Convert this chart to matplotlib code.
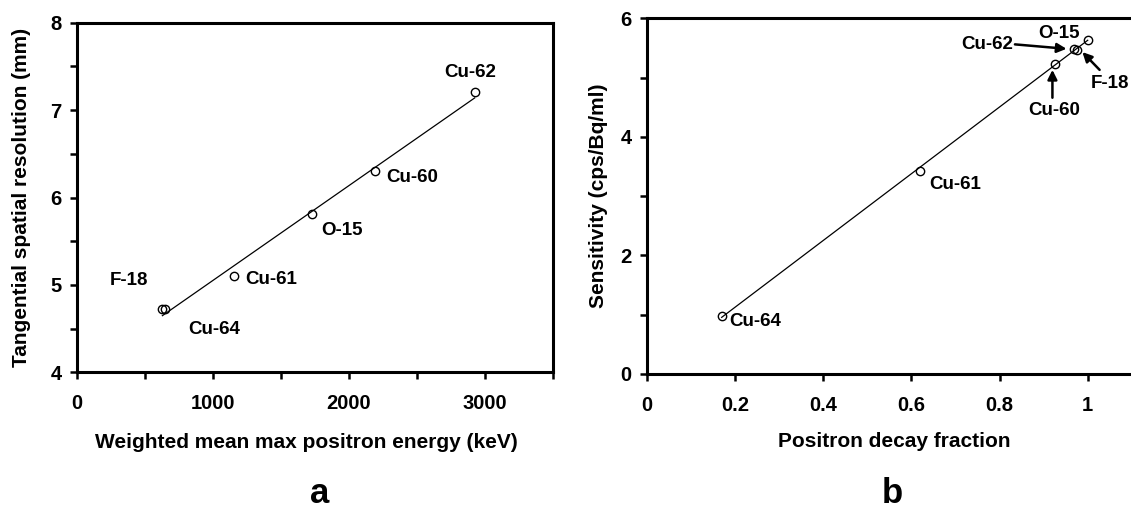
import numpy as np
import matplotlib
matplotlib.use('Agg')
from matplotlib import pyplot as plt

plt.rcParams['font.family'] = ['Liberation Sans', 'DejaVu Sans']
plt.rcParams['font.weight'] = 'bold'
plt.rcParams['axes.labelweight'] = 'bold'

# panel a: resolution vs energy
isotopes_a = ['F-18', 'Cu-64', 'Cu-61', 'O-15', 'Cu-60', 'Cu-62']
energy_kev = [630, 650, 1155, 1730, 2190, 2925]
resolution_mm = [4.72, 4.72, 5.10, 5.81, 6.30, 7.21]

# panel b: sensitivity vs positron fraction
isotopes_b = ['Cu-64', 'Cu-61', 'Cu-60', 'Cu-62', 'F-18', 'O-15']
positron_frac = [0.17, 0.62, 0.925, 0.975, 0.97, 1.0]
sensitivity = [0.98, 3.43, 5.23, 5.47, 5.49, 5.63]

xticks_a = [0, 500, 1000, 1500, 2000, 2500, 3000, 3500]
xlabels_a = ['0', '', '1000', '', '2000', '', '3000', '']
yticks_a = [4, 4.5, 5, 5.5, 6, 6.5, 7, 7.5, 8]
ylabels_a = ['4', '', '5', '', '6', '', '7', '', '8']
xticks_b = [0, 0.2, 0.4, 0.6, 0.8, 1]
xlabels_b = ['0', '0.2', '0.4', '0.6', '0.8', '1']
yticks_b = [0, 1, 2, 3, 4, 5, 6]
ylabels_b = ['0', '', '2', '', '4', '', '6']

fig = plt.figure(figsize=(11.31, 5.08), dpi=100)
ax1 = fig.add_axes([0.0678, 0.2671, 0.4211, 0.6882])
# panel b runs past the right edge of the picture, as in the source
ax2 = fig.add_axes([0.5718, 0.2638, 0.4679, 0.7002])


def style(ax):
    for s in ax.spines.values():
        s.set_linewidth(2.2)
    ax.tick_params(direction='out', length=5, width=1.8, labelsize=14.5)
    ax.tick_params(axis='x', pad=10.5)
    ax.tick_params(axis='y', pad=6)


# ---- a ----
ex = np.array(energy_kev)
ry = np.array(resolution_mm)
k, b = np.polyfit(ex, ry, 1)
xx = np.array([ex.min(), ex.max()])
ax1.plot(xx, k * xx + b, color='black', lw=0.9)
ax1.plot(ex, ry, 'o', ms=6, mfc='none', mec='black', mew=1.0)
ax1.set_xlim(0, 3500)
ax1.set_ylim(4, 8)
ax1.set_xticks(xticks_a)
ax1.set_xticklabels(xlabels_a)
ax1.set_yticks(yticks_a)
ax1.set_yticklabels(ylabels_a)
style(ax1)

label_pos_a = {'F-18': (383, 5.055), 'Cu-64': (1014, 4.495), 'Cu-61': (1429, 5.063),
               'O-15': (1947, 5.627), 'Cu-60': (2464, 6.229), 'Cu-62': (2892, 7.436)}
for name in isotopes_a:
    x, y = label_pos_a[name]
    ax1.text(x, y, name, ha='center', va='center', fontsize=13.5, fontweight='bold')

ax1.set_xlabel('Weighted mean max positron energy (keV)', fontsize=15)
ax1.xaxis.set_label_coords(0.4825, -0.173)
ax1.set_ylabel('Tangential spatial resolution (mm)', fontsize=15, va='center')
ax1.yaxis.set_label_coords(-0.116, 0.5)

# ---- b ----
px = np.array(positron_frac)
sy = np.array(sensitivity)
k2, b2 = np.polyfit(px, sy, 1)
xx2 = np.array([px.min(), px.max()])
ax2.plot(xx2, k2 * xx2 + b2, color='black', lw=0.9)
ax2.plot(px, sy, 'o', ms=6, mfc='none', mec='black', mew=1.0)
ax2.set_xlim(0, 1.2)
ax2.set_ylim(0, 6)
ax2.set_xticks(xticks_b)
ax2.set_xticklabels(xlabels_b)
ax2.set_yticks(yticks_b)
ax2.set_yticklabels(ylabels_b)
style(ax2)

ax2.text(0.247, 0.88, 'Cu-64', ha='center', va='center', fontsize=13.5)
ax2.text(0.700, 3.19, 'Cu-61', ha='center', va='center', fontsize=13.5)
ax2.text(0.925, 4.44, 'Cu-60', ha='center', va='center', fontsize=13.5)
ax2.text(0.936, 5.75, 'O-15', ha='center', va='center', fontsize=13.5)
ax2.text(0.772, 5.55, 'Cu-62', ha='center', va='center', fontsize=13.5)
ax2.text(1.008, 4.90, 'F-18', ha='left', va='center', fontsize=13.5)

arrow = dict(arrowstyle='-|>', lw=1.8, color='black', mutation_scale=14,
             shrinkA=0, shrinkB=0)
ax2.annotate('', xy=(0.952, 5.485), xytext=(0.835, 5.56), arrowprops=arrow)
ax2.annotate('', xy=(0.988, 5.43), xytext=(1.027, 5.13), arrowprops=arrow)
ax2.annotate('', xy=(0.920, 5.13), xytext=(0.920, 4.66), arrowprops=arrow)

ax2.set_xlabel('Positron decay fraction', fontsize=15)
ax2.xaxis.set_label_coords(0.4677, -0.163)
ax2.set_ylabel('Sensitivity (cps/Bq/ml)', fontsize=15, va='center')
ax2.yaxis.set_label_coords(-0.0905, 0.5)

fig.text(319.2 / 1131, 1 - 503 / 508, 'a', ha='center', va='baseline', fontsize=25, fontweight='bold')
fig.text(892.7 / 1131, 1 - 503 / 508, 'b', ha='center', va='baseline', fontsize=25, fontweight='bold')

fig.savefig('out.png', dpi=100)
